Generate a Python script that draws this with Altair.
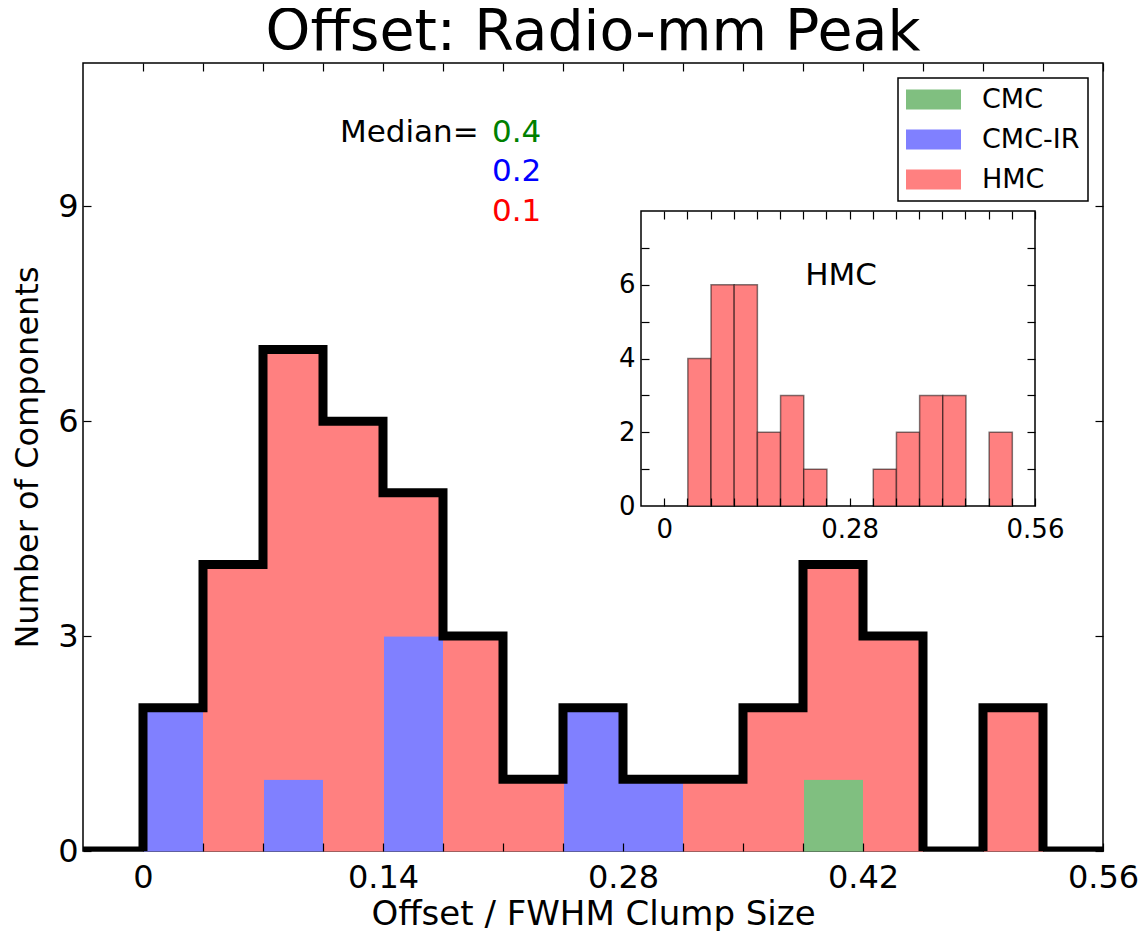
import altair as alt
import pandas as pd

# ---------------- data ----------------
bin_edges = [0.0, 0.035, 0.07, 0.105, 0.14, 0.175, 0.21, 0.245, 0.28,
             0.315, 0.35, 0.385, 0.42, 0.455, 0.49, 0.525, 0.56]
classes = ["CMC", "CMC-IR", "HMC"]
cmc_counts = [0, 0, 0, 0, 0, 0, 0, 0, 0, 0, 0, 1, 0, 0, 0, 0]
cmcir_counts = [2, 0, 1, 0, 3, 0, 0, 2, 1, 0, 0, 0, 0, 0, 0, 0]
hmc_counts = [0, 4, 6, 6, 2, 3, 1, 0, 0, 1, 2, 3, 3, 0, 2, 0]

x_major_ticks = [0.0, 0.14, 0.28, 0.42, 0.56]
y_major_ticks = [0, 3, 6, 9]
inset_y_labels = [0, 2, 4, 6]
inset_y_ticks = [1, 2, 3, 4, 5, 6, 7]
inset_x_labels = [0.0, 0.28, 0.56]

median_labels = ["0.4", "0.2", "0.1"]
median_colors = ["#008000", "#0000ff", "#ff0000"]
median_x = 0.2036
median_y = [9.9, 9.35, 8.8]
median_head_x = 0.1149

# ---------------- layout / style ----------------
W, H = 1020, 788
XD = [-0.035, 0.56]
YD = [0, 11]
IYD = [0, 8]
IX_RANGE = [558, 952]
IY_RANGE = [443, 148]
TL = 8
FONT = "DejaVu Sans"
class_colors = ["#80bf80", "#8080ff", "#ff8080"]

# ---------------- tables ----------------
rows = []
for arr, cls, rank in [(cmc_counts, "CMC", 0), (cmcir_counts, "CMC-IR", 1), (hmc_counts, "HMC", 2)]:
    for i, c in enumerate(arr):
        if c > 0:
            rows.append({"start": bin_edges[i], "end": bin_edges[i + 1], "count": c, "cls": cls, "rank": rank})
bars_df = pd.DataFrame(rows)

totals = [a + b + c for a, b, c in zip(cmc_counts, cmcir_counts, hmc_counts)]
line_df = pd.DataFrame({"x": [XD[0]] + bin_edges, "y": [0] + totals + [0]})

inset_df = pd.DataFrame([{"start": bin_edges[i], "end": bin_edges[i + 1], "count": c}
                         for i, c in enumerate(hmc_counts) if c > 0])
frame_df = pd.DataFrame([{"x0": XD[0], "x1": XD[1], "y0": IYD[0], "y1": IYD[1]}])

med_head_df = pd.DataFrame([{"x": median_head_x, "y": median_y[0], "t": "Median="}])
med_df = pd.DataFrame({"x": [median_x] * 3, "y": median_y, "t": median_labels, "c": median_colors})
hmc_label_df = pd.DataFrame([{"x": 0.267, "y": 6.0, "t": "HMC"}])

sx = alt.Scale(domain=XD, nice=False, zero=False)
sy = alt.Scale(domain=YD, nice=False, zero=False)
isx = alt.Scale(domain=XD, nice=False, zero=False, range=IX_RANGE)
isy = alt.Scale(domain=IYD, nice=False, zero=False, range=IY_RANGE)
cscale = alt.Scale(domain=classes, range=class_colors)

lab_expr = "datum.value == 0 ? '0' : format(datum.value, '.2f')"


def tick_axis(orient, values, offset):
    return alt.Axis(orient=orient, values=values, offset=offset, tickSize=TL, ticks=True,
                    labels=False, domain=False, grid=False, title=None, zindex=2,
                    tickColor="black", tickWidth=1.2)


minor_x = bin_edges

# main bars
bars = alt.Chart(bars_df).mark_bar(binSpacing=0, strokeWidth=1).encode(
    x=alt.X("start:Q", bin="binned", scale=sx,
            axis=alt.Axis(orient="bottom", values=x_major_ticks, labelExpr=lab_expr, ticks=False,
                          domain=False, grid=False, labelFontSize=32, labelPadding=11,
                          labelFlush=False, labelOverlap=False,
                          title="Offset / FWHM Clump Size", titleFontSize=34, titlePadding=4)),
    x2="end:Q",
    y=alt.Y("count:Q", stack="zero", scale=sy,
            axis=alt.Axis(orient="left", values=y_major_ticks, ticks=False, domain=False, grid=False,
                          labelFontSize=32, labelPadding=5, labelFlush=False,
                          title="Number of Components", titleFontSize=32, titlePadding=13)),
    color=alt.Color("cls:N", scale=cscale,
                    legend=alt.Legend(title=None, orient="top-right", offset=15, padding=8,
                                      strokeColor="black", fillColor="white", cornerRadius=0,
                                      symbolType="M-1.35,-1H4.15V1H-1.35Z", symbolSize=400,
                                      symbolStrokeWidth=0, symbolOpacity=1,
                                      labelFontSize=27, labelOffset=49, rowPadding=12)),
    stroke=alt.Stroke("cls:N", scale=cscale, legend=None),
    order=alt.Order("rank:Q"),
)

outline = alt.Chart(line_df).mark_line(interpolate="step-after", color="black", strokeWidth=9,
                                       clip=True, strokeJoin="miter", strokeCap="butt").encode(
    x=alt.X("x:Q", scale=sx, axis=tick_axis("bottom", minor_x, -TL)),
    y=alt.Y("y:Q", scale=sy, axis=tick_axis("left", y_major_ticks, -TL)),
)

main_ticks2 = alt.Chart(line_df).mark_point(opacity=0).encode(
    x=alt.X("x:Q", scale=sx, axis=tick_axis("top", minor_x, -TL)),
    y=alt.Y("y:Q", scale=sy, axis=tick_axis("right", y_major_ticks, -TL)),
)

# inset
inset_frame = alt.Chart(frame_df).mark_rect(fill="white", stroke="black", strokeWidth=1.5).encode(
    x=alt.X("x0:Q", scale=isx, axis=tick_axis("bottom", minor_x, (IY_RANGE[0] - H) - TL)),
    x2="x1:Q",
    y=alt.Y("y0:Q", scale=isy, axis=tick_axis("left", inset_y_ticks, -IX_RANGE[0] - TL)),
    y2="y1:Q",
)

inset_ticks2 = alt.Chart(frame_df).mark_point(opacity=0).encode(
    x=alt.X("x0:Q", scale=isx, axis=tick_axis("top", minor_x, -IY_RANGE[1] - TL)),
    y=alt.Y("y0:Q", scale=isy, axis=tick_axis("right", inset_y_ticks, (IX_RANGE[1] - W) - TL)),
)

inset_bars = alt.Chart(inset_df).mark_bar(binSpacing=0, color="#ff8080", stroke="black",
                                          strokeOpacity=0.5, strokeWidth=1.5).encode(
    x=alt.X("start:Q", bin="binned", scale=isx,
            axis=alt.Axis(orient="bottom", offset=IY_RANGE[0] - H, values=inset_x_labels,
                          labelExpr=lab_expr, ticks=False, domain=False, grid=False,
                          labelFontSize=26, labelPadding=10, labelFlush=False,
                          labelOverlap=False, title=None)),
    x2="end:Q",
    y=alt.Y("count:Q", scale=isy,
            axis=alt.Axis(orient="left", offset=-IX_RANGE[0], values=inset_y_labels, ticks=False,
                          domain=False, grid=False, labelFontSize=26, labelPadding=6,
                          labelFlush=False, title=None)),
)

# texts
med_head = alt.Chart(med_head_df).mark_text(align="left", baseline="alphabetic", fontSize=31,
                                            color="black").encode(
    x=alt.X("x:Q", scale=sx, axis=None), y=alt.Y("y:Q", scale=sy, axis=None), text="t:N")
med_vals = alt.Chart(med_df).mark_text(align="left", baseline="alphabetic", fontSize=31).encode(
    x=alt.X("x:Q", scale=sx, axis=None), y=alt.Y("y:Q", scale=sy, axis=None), text="t:N",
    color=alt.Color("c:N", scale=None))
hmc_text = alt.Chart(hmc_label_df).mark_text(align="center", baseline="alphabetic", fontSize=31,
                                             color="black").encode(
    x=alt.X("x:Q", scale=isx, axis=None), y=alt.Y("y:Q", scale=isy, axis=None), text="t:N")

chart = alt.layer(
    bars, outline, main_ticks2, inset_frame, inset_bars, inset_ticks2, med_head, med_vals, hmc_text
).resolve_scale(x="independent", y="independent").resolve_axis(
    x="independent", y="independent"
).properties(
    width=W, height=H,
    title=alt.TitleParams("Offset: Radio-mm Peak", fontSize=57, font=FONT, fontWeight="normal",
                          anchor="middle", offset=0, color="black"),
    autosize=alt.AutoSizeParams(type="none"),
    padding={"left": 75, "top": 55, "right": 37, "bottom": 80},
).configure_view(stroke="black", strokeWidth=1.5).configure_axis(
    labelFont=FONT, titleFont=FONT, labelColor="black", titleColor="black", titleFontWeight="normal"
).configure_legend(labelFont=FONT, labelColor="black", strokeWidth=1.5).configure_text(font=FONT)

chart.save("out.html", embed_options={"renderer": "svg", "actions": False})
